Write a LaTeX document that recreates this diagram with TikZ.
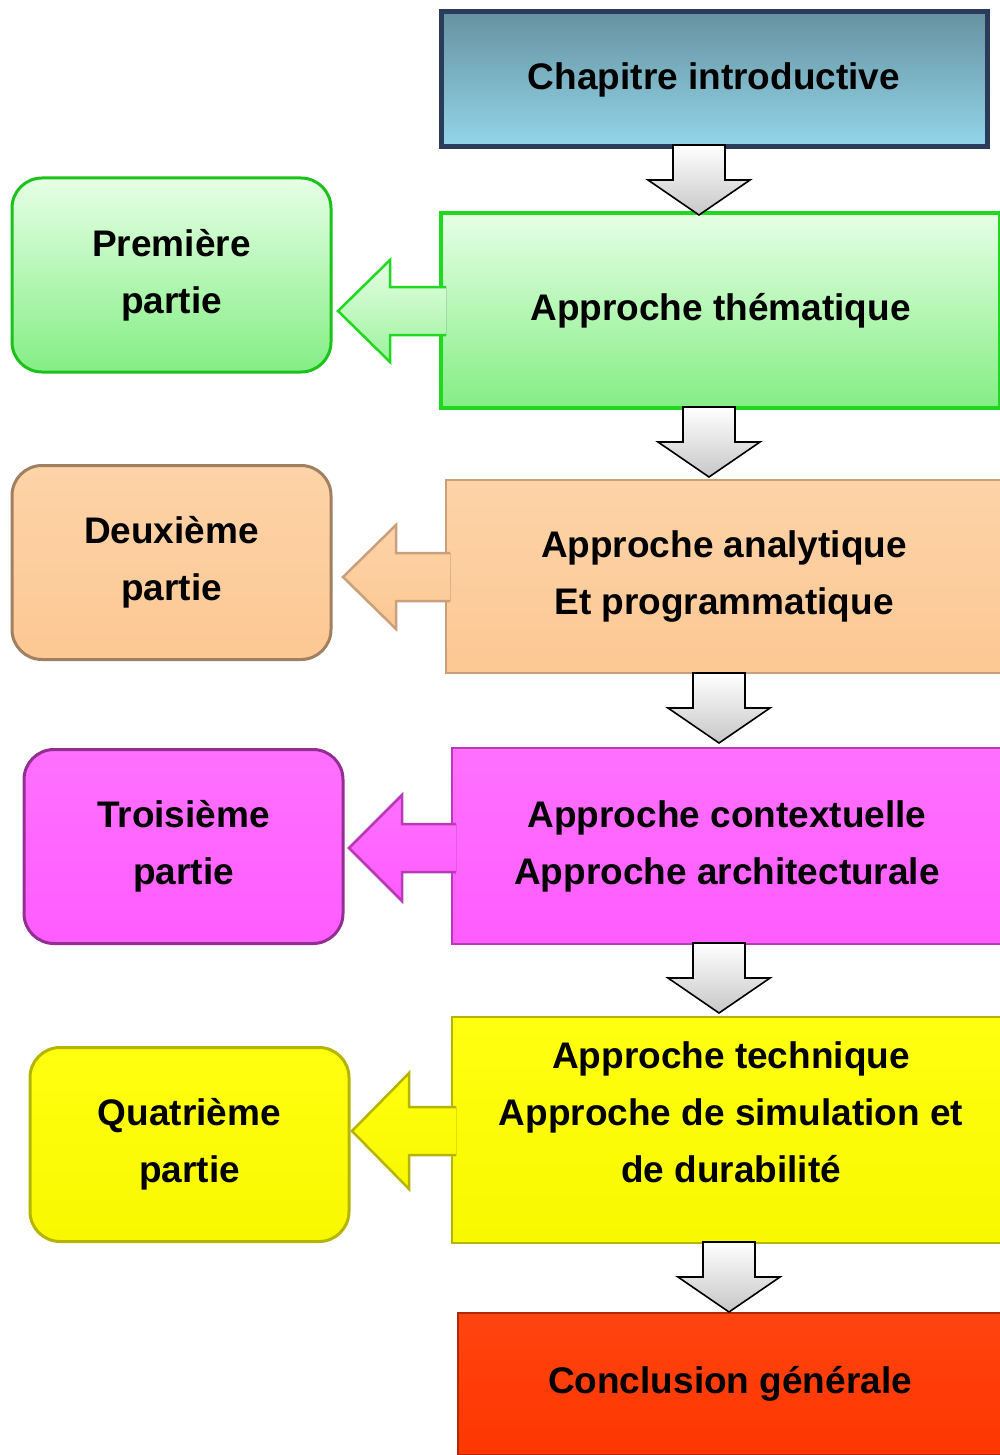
\documentclass[tikz,border=0pt]{standalone}
\usepackage{fontspec}
\setmainfont{Liberation Sans}
\usetikzlibrary{calc}
\definecolor{bluetop}{HTML}{6792A0}
\definecolor{bluebot}{HTML}{92D6EA}
\definecolor{blueline}{HTML}{2B3B5C}
\definecolor{grtop}{HTML}{E6FFE6}
\definecolor{grbot}{HTML}{84EE84}
\definecolor{grline}{HTML}{1FD81F}
\definecolor{petop}{HTML}{FDD3A8}
\definecolor{pebot}{HTML}{FCC893}
\definecolor{peline}{HTML}{C9A079}
\definecolor{magtop}{HTML}{FF70FF}
\definecolor{magbot}{HTML}{FF5CFF}
\definecolor{magline}{HTML}{B83AB8}
\definecolor{yetop}{HTML}{FFFF10}
\definecolor{yebot}{HTML}{F8F800}
\definecolor{yeline}{HTML}{B5B500}
\definecolor{retop}{HTML}{FF4410}
\definecolor{rebot}{HTML}{FF3600}
\definecolor{reline}{HTML}{B02A00}
\newcommand\bigfont{\fontsize{37}{57}\selectfont\bfseries}
\newcommand\grayarrow[2]{%
  \draw[grayar] (#1-26,#2) -- (#1-26,#2+35) -- (#1-51,#2+35) -- (#1,#2+70)
    -- (#1+51,#2+35) -- (#1+26,#2+35) -- (#1+26,#2) -- cycle;}
% #1 tip x, #2 center y, #3 head back x, #4 end x, #5 head half, #6 colour top, #7 colour bottom, #8 line
\newcommand\sidearrow[8]{%
  \fill[top color=#6,bottom color=#7] (#4,#2-24) -- (#3,#2-24) -- (#3,#2-#5) -- (#1,#2)
    -- (#3,#2+#5) -- (#3,#2+24) -- (#4,#2+24) -- cycle;
  \draw[#8,line width=2.5pt,line join=miter] (#4,#2-24) -- (#3,#2-24) -- (#3,#2-#5) -- (#1,#2)
    -- (#3,#2+#5) -- (#3,#2+24) -- (#4,#2+24);}
\tikzset{
  rbox/.style={rectangle, inner sep=0pt, align=center, font=\bigfont},
  lbox/.style={rectangle, rounded corners=30pt, inner sep=0pt, align=center, font=\bigfont,
    minimum width=319pt, minimum height=194pt, line width=3pt},
  grayar/.style={top color=white, bottom color=black!22, draw=black, line width=1.6pt, line join=miter},
}
\begin{document}
\begin{tikzpicture}[x=1pt,y=-1pt]
\useasboundingbox (0,0) rectangle (1000,1455);

% right column
\node[rbox, minimum width=546pt, minimum height=135pt, top color=bluetop, bottom color=bluebot,
  draw=blueline, line width=5pt] (c0) at (714,79.5) {Chapitre introductive};
\node[rbox, minimum width=559pt, minimum height=195pt, top color=grtop, bottom color=grbot,
  draw=grline, line width=4pt] (c1) at (720.5,310.5) {Approche thématique};
\node[rbox, minimum width=556pt, minimum height=193pt, top color=petop, bottom color=pebot,
  draw=peline, line width=2.5pt] (c2) at (724,576.5) {Approche analytique\\Et programmatique};
\node[rbox, minimum width=550pt, minimum height=196pt, top color=magtop, bottom color=magbot,
  draw=magline, line width=2.5pt] (c3) at (727,846) {Approche contextuelle\\Approche architecturale};
\node[rbox, minimum width=550pt, minimum height=226pt, top color=yetop, bottom color=yebot,
  draw=yeline, line width=2.5pt] (c4) at (727,1130) {};
\node[font=\bigfont, align=center, inner sep=0pt] (c4t) at (731,1112) {Approche technique\\Approche de simulation et\\de durabilité};
\node[rbox, minimum width=544pt, minimum height=142pt, top color=retop, bottom color=rebot,
  draw=reline, line width=2.5pt] (c5) at (730,1384) {Conclusion générale};

% left column
\node[lbox, top color=grtop, bottom color=grbot, draw=grline!90!black] (p1) at (171.5,275) {Première\\partie};
\node[lbox, top color=petop, bottom color=pebot, draw=peline!80!black] (p2) at (171.5,562.5) {Deuxième\\partie};
\node[lbox, top color=magtop, bottom color=magbot, draw=magline!80!black] (p3) at (183.5,846.5) {Troisième\\partie};
\node[lbox, top color=yetop, bottom color=yebot, draw=yeline] (p4) at (189.5,1144.5) {Quatrième\\partie};

% down arrows
\grayarrow{699}{145}
\grayarrow{709}{407}
\grayarrow{719}{673}
\grayarrow{719}{943}
\grayarrow{729}{1242}

% side arrows
\sidearrow{338}{311}{390}{446}{51}{grtop}{grbot!80!white}{grline}
\sidearrow{343}{577}{396}{450}{52}{petop}{pebot}{peline}
\sidearrow{349}{848}{402}{456}{53}{magtop}{magbot}{magline}
\sidearrow{352}{1131}{409}{456}{58}{yetop}{yebot}{yeline}
\end{tikzpicture}
\end{document}
